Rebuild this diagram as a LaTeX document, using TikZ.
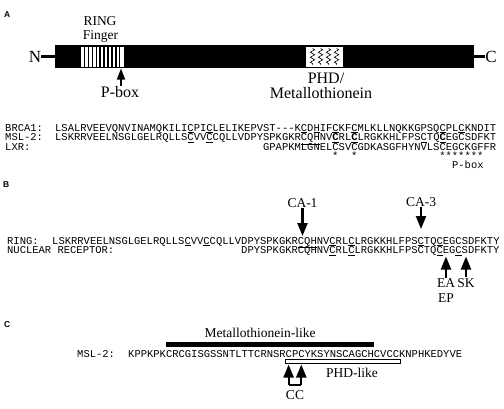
\documentclass[tikz,border=0pt]{standalone}
\usepackage{fontspec}
\setmainfont{Liberation Serif}
\newfontfamily\seqfont{Liberation Mono}
\newfontfamily\panelfont{Liberation Sans}
\usetikzlibrary{arrows.meta,decorations.pathmorphing,positioning}

\newcommand{\uc}[1]{\underline{#1}}
\newcommand{\bc}[1]{\textbf{\underline{#1}}}

\tikzset{
  seq/.style={font=\seqfont\fontsize{10.5}{12}\selectfont, inner sep=0pt, anchor=base west},
  panel/.style={font=\panelfont\bfseries\fontsize{8.5}{10}\selectfont, inner sep=0pt, anchor=base west},
  lblbig/.style={font=\fontsize{16}{18}\selectfont, inner sep=0pt, anchor=base},
  lblring/.style={font=\fontsize{13.5}{15}\selectfont, inner sep=0pt, anchor=base},
  lblmid/.style={font=\fontsize{13.5}{15}\selectfont, inner sep=1pt, anchor=base},
  tipA/.style={line width=1.3pt, -{Triangle[width=8pt,length=11pt]}},
  tipB/.style={line width=2.2pt, -{Triangle[width=10pt,length=13pt]}},
  blackbar/.style={fill=black, inner sep=0pt},
}

\begin{document}
\begin{tikzpicture}[x=1pt,y=-1pt]
    \useasboundingbox (0,0) rectangle (504,408);

    % Panel A: domain map
    \node[panel] (pa) at (4,17) {A};
    \node[blackbar, minimum width=419pt, minimum height=23pt] (bar) at (264.5,56.5) {};
    \node[lblbig, font=\fontsize{17}{18}\selectfont, anchor=center] (nterm) at (35,56.5) {N};
    \node[lblbig, font=\fontsize{17}{18}\selectfont, anchor=center] (cterm) at (491,56.5) {C};
    \draw[line width=2.2pt] (nterm.east) -- (bar.west);
    \draw[line width=2.2pt] (bar.east) -- (cterm.west);

    % RING finger stripes
    \node[fill=white, inner sep=0pt, minimum width=43pt, minimum height=20pt] (ringbox) at (102.5,56.5) {};
    \foreach \k in {0,...,9}
        \draw[line width=1.5pt] ({84.6+3.9*\k},46.5) -- ({84.6+3.9*\k},66.5);
    \node[lblring] (ring) at (100,25) {RING};
    \node[lblring] (finger) at (100.5,39) {Finger};

    % PHD / metallothionein box
    \node[fill=white, inner sep=0pt, minimum width=37pt, minimum height=20pt] (phdbox) at (324.5,56.5) {};
    \foreach \x in {312.5,320.5,328.5,336.5}
        \draw[line width=0.6pt, decorate, decoration={zigzag, amplitude=2.2pt, segment length=5pt}] (\x,48.5) -- (\x,64.5);
    \node[lblbig] (phd) at (326,83) {PHD/};
    \node[lblbig] (metal) at (321,98.5) {Metallothionein};

    % P-box arrow
    \node[lblbig] (pbox) at (120,97.5) {P-box};
    \coordinate (pboxtip) at (121,68.5);
    \draw[tipA] (pbox.north -| pboxtip) -- (pboxtip);

    % Panel A: alignment
    \node[seq] (brcaname) at (5,131) {BRCA1:};
    \node[seq] (brcaseq) at (55,131) {LSALRVEEVQNVINAMQKILI\uc{C}PI\uc{C}LELIKEPVST-{}-{}-K\uc{C}D\uc{H}IF\uc{C}KF\uc{C}MLKLLNQKKGPSQ\uc{C}PL\uc{C}KNDIT};
    \node[seq] (mslname) at (5,140.5) {MSL-2:};
    \node[seq] (mslseq) at (55,140.5) {LSKRRVEELNSGLGELRQLLS\uc{C}VV\uc{C}CQLLVDPYSPKGKR\uc{CQH}NV\bc{C}RL\bc{C}LRGKKHLFPS\uc{C}TQ\bc{C}EGCSDFKT};
    \node[seq] (lxrname) at (5,150) {LXR:};
    \node[seq] (lxrseq) at ({55+33*6.3},150) {GPAPKMLGNELCSVCGDKASGFHYNVLSCEGCKGFFR};
    \foreach \c in {45,48,62,63,64,65,66,67,68}
        \node[seq, anchor=base] at ({55+(\c-0.5)*6.3},159) {*};
    \node[seq] (pboxseq) at ({55+63*6.3},168) {P-box};

    % Panel B
    \node[panel] (pb) at (3,187) {B};
    \node[seq] (ringname) at (7,244) {RING:};
    \node[seq] (ringseq) at (52,244) {LSKRRVEELNSGLGELRQLLS\uc{C}VV\uc{C}CQLLVDPYSPKGKR\uc{CQH}NV\uc{C}RL\uc{C}LRGKKHLFPS\uc{C}TQ\uc{C}EGCSDFKTY};
    \node[seq] (nrname) at (7,253.5) {NUCLEAR RECEPTOR:};
    \node[seq] (nrseq) at ({52+30*6.3},253.5) {DPYSPKGKRCQHNV\uc{C}RL\uc{C}LRGKKHLFPSCTQ\uc{C}EG\uc{C}SDFKTY};

    \node[lblmid] (ca1) at (302.5,207) {CA-1};
    \coordinate (ca1tip) at (302.5,236);
    \draw[tipB] (ca1.south) -- (ca1tip);
    \node[lblmid] (ca3) at (421,206) {CA-3};
    \coordinate (ca3tip) at (421,229);
    \draw[tipB] (ca3.south) -- (ca3tip);

    \node[lblmid, anchor=north, align=center] (eaep) at (446,277.5) {EA\\EP};
    \coordinate (eatip) at (446,256.5);
    \draw[tipB] (eaep.north) -- (eatip);
    \node[lblmid] (sk) at (466,287) {SK};
    \coordinate (sktip) at (466,256.5);
    \draw[tipB] (sk.north) -- (sktip);

    % Panel C
    \node[panel] (pc) at (4,327) {C};
    \node[lblmid] (mtlike) at (260,337.5) {Metallothionein-like};
    \node[blackbar, minimum width=208pt, minimum height=5pt] (mtbar) at (269.8,344.5) {};
    \node[seq] (msl2name) at (77,357) {MSL-2:};
    \node[seq] (msl2seq) at (128,357) {KPPKPKCRCGISGSSNTLTTCRNSRCPCYKSYNSCAGCHCVCCKNPHKEDYVE};
    \node[draw, fill=white, line width=0.8pt, inner sep=0pt, minimum width=115pt, minimum height=4.5pt] (phdlike) at (343,361.5) {};
    \node[lblmid] (phdtxt) at (352,377) {PHD-like};

    \coordinate (ccA) at (288.6,385);
    \coordinate (ccB) at (301.3,385);
    \coordinate (cctipA) at (288.6,364.5);
    \coordinate (cctipB) at (301.3,364.5);
    \draw[line width=1.6pt] (ccA) -- (ccB);
    \draw[tipB] (ccA) -- (cctipA);
    \draw[tipB] (ccB) -- (cctipB);
    \node[lblmid] (cc) at (295,399) {CC};
\end{tikzpicture}
\end{document}
